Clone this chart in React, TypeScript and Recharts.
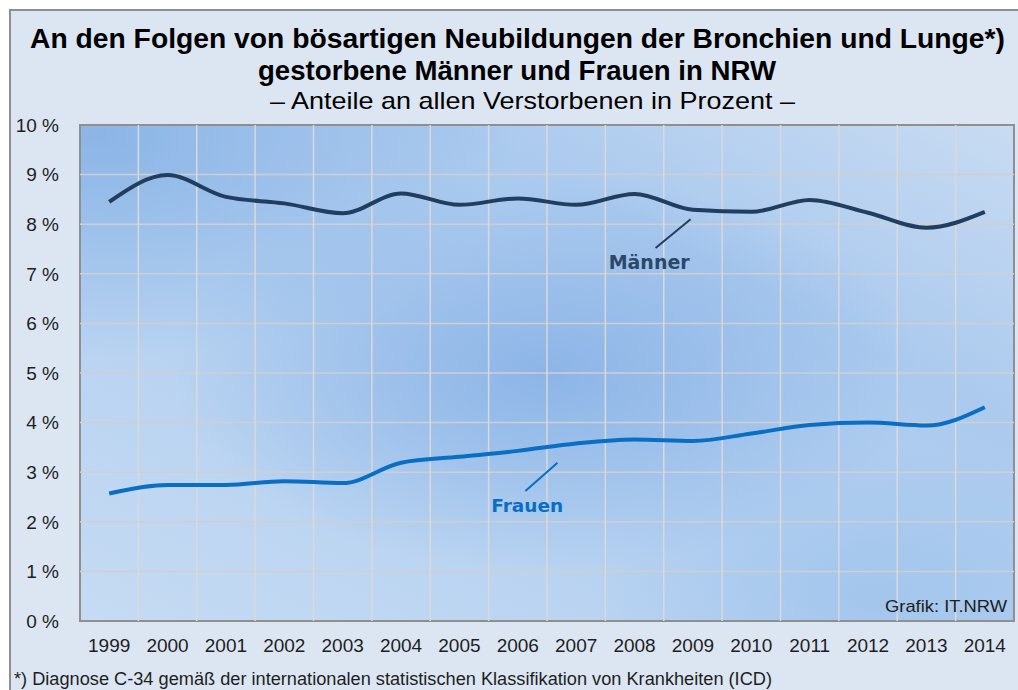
import React from 'react';
import { LineChart, Line, XAxis, YAxis, ReferenceArea, ReferenceLine, ReferenceDot } from 'recharts';

const years = [1999, 2000, 2001, 2002, 2003, 2004, 2005, 2006, 2007, 2008, 2009, 2010, 2011, 2012, 2013, 2014];
const maenner = [8.45, 8.99, 8.55, 8.42, 8.22, 8.62, 8.39, 8.52, 8.39, 8.61, 8.29, 8.25, 8.49, 8.23, 7.93, 8.25];
const frauen = [2.57, 2.74, 2.74, 2.82, 2.78, 3.19, 3.31, 3.43, 3.58, 3.66, 3.63, 3.78, 3.95, 4.0, 3.94, 4.31];
const yTicks = [0, 1, 2, 3, 4, 5, 6, 7, 8, 9, 10];
const hGrid = [1, 2, 3, 4, 5, 6, 7, 8, 9];
const gridBoundaries = [1999.5, 2000.5, 2001.5, 2002.5, 2003.5, 2004.5, 2005.5, 2006.5, 2007.5, 2008.5, 2009.5, 2010.5, 2011.5, 2012.5, 2013.5];

const titleLine1 = 'An den Folgen von bösartigen Neubildungen der Bronchien und Lunge*)';
const titleLine2 = 'gestorbene Männer und Frauen in NRW';
const titleLine3 = '– Anteile an allen Verstorbenen in Prozent –';
const footnote = '*) Diagnose C-34 gemäß der internationalen statistischen Klassifikation von Krankheiten (ICD)';
const source = 'Grafik: IT.NRW';

const data = years.map((y, i) => ({ year: y, m: maenner[i], f: frauen[i] }));

const W = 1018;
const H = 690;
const FONT = '"Liberation Sans", Arial, sans-serif';

export default function App() {
  return (
    <div style={{ position: 'absolute', left: 0, top: 0, width: W, height: H, background: '#ffffff', overflow: 'hidden' }}>
      <div
        style={{
          position: 'absolute',
          left: 9,
          top: 9,
          width: W + 10,
          height: H + 10,
          background: '#dce6f2',
          border: '2px solid #8f8f8f',
          boxSizing: 'border-box',
        }}
      />
      <svg width={W} height={H} style={{ position: 'absolute', left: 0, top: 0 }}>
        <defs>
          <linearGradient id="bgBase" x1="0" y1="1" x2="1" y2="0">
            <stop offset="0%" stopColor="#c6dbf3" />
            <stop offset="45%" stopColor="#b2cff0" />
            <stop offset="70%" stopColor="#abcaee" />
            <stop offset="100%" stopColor="#c8dbf2" />
          </linearGradient>
          <radialGradient id="blobTL" cx="0.02" cy="0.02" r="0.45">
            <stop offset="0%" stopColor="#8ab4e6" stopOpacity="0.95" />
            <stop offset="100%" stopColor="#8ab4e6" stopOpacity="0" />
          </radialGradient>
          <radialGradient id="blobC" cx="0.5" cy="0.5" r="0.4">
            <stop offset="0%" stopColor="#88b2e6" stopOpacity="0.9" />
            <stop offset="100%" stopColor="#88b2e6" stopOpacity="0" />
          </radialGradient>
          <radialGradient id="blobBR" cx="0.85" cy="0.95" r="0.3">
            <stop offset="0%" stopColor="#9dc2ec" stopOpacity="0.7" />
            <stop offset="100%" stopColor="#9dc2ec" stopOpacity="0" />
          </radialGradient>
        </defs>
      </svg>
      <div style={{ position: 'absolute', left: 0, top: 0 }}>
        <LineChart width={W} height={H} data={data} margin={{ top: 125, right: 4, bottom: 0, left: 0 }}>
          <XAxis
            dataKey="year"
            type="number"
            domain={[1998.5, 2014.5]}
            ticks={years}
            interval={0}
            axisLine={false}
            tickLine={false}
            tickSize={0}
            tickMargin={18}
            height={69}
            tick={{ fontFamily: FONT, fontSize: 19, fill: '#1e1e1e' }}
          />
          <YAxis
            type="number"
            domain={[0, 10]}
            ticks={yTicks}
            interval={0}
            axisLine={false}
            tickLine={false}
            tickSize={0}
            tickMargin={21}
            width={80}
            tickFormatter={(v) => `${v} %`}
            tick={{ fontFamily: FONT, fontSize: 19, fill: '#1e1e1e' }}
          />
          <ReferenceArea x1={1998.5} x2={2014.5} y1={0} y2={10} fill="url(#bgBase)" fillOpacity={1} stroke="none" ifOverflow="visible" />
          <ReferenceArea x1={1998.5} x2={2014.5} y1={0} y2={10} fill="url(#blobTL)" fillOpacity={1} stroke="none" ifOverflow="visible" />
          <ReferenceArea x1={1998.5} x2={2014.5} y1={0} y2={10} fill="url(#blobC)" fillOpacity={1} stroke="none" ifOverflow="visible" />
          <ReferenceArea x1={1998.5} x2={2014.5} y1={0} y2={10} fill="url(#blobBR)" fillOpacity={1} stroke="none" ifOverflow="visible" />
          {hGrid.map((v) => (
            <ReferenceLine key={'h' + v} y={v} stroke="#cfcfcf" strokeWidth={1.5} />
          ))}
          {gridBoundaries.map((b) => (
            <ReferenceLine key={'v' + b} x={b} stroke="#d9d9d9" strokeWidth={1.5} />
          ))}
          <ReferenceArea x1={1998.5} x2={2014.5} y1={0} y2={10} fill="none" stroke="#8f8f8f" strokeWidth={2} ifOverflow="visible" />
          <ReferenceLine
            segment={[{ x: 2008.36, y: 7.52 }, { x: 2008.96, y: 8.1 }]}
            stroke="#213e60"
            strokeWidth={2}
          />
          <ReferenceLine
            segment={[{ x: 2006.13, y: 2.62 }, { x: 2006.68, y: 3.19 }]}
            stroke="#0a6fc2"
            strokeWidth={2}
          />
          <ReferenceDot
            x={2008.25}
            y={7.23}
            r={0}
            stroke="none"
            label={{ value: 'Männer', position: 'center', fill: '#2c4868', fontSize: 19, fontWeight: 'bold', fontFamily: '"DejaVu Sans", Verdana, sans-serif' }}
          />
          <ReferenceDot
            x={2006.16}
            y={2.34}
            r={0}
            stroke="none"
            label={{ value: 'Frauen', position: 'center', fill: '#0a6fc2', fontSize: 18.5, fontWeight: 'bold', fontFamily: '"DejaVu Sans", Verdana, sans-serif' }}
          />
          <Line type="monotone" dataKey="m" stroke="#213e60" strokeWidth={4} dot={false} isAnimationActive={false} />
          <Line type="monotone" dataKey="f" stroke="#0a6fc2" strokeWidth={4} dot={false} isAnimationActive={false} />
        </LineChart>
      </div>
      <svg width={W} height={H} style={{ position: 'absolute', left: 0, top: 0, pointerEvents: 'none' }}>
        <text x={30} y={48} fontFamily={FONT} fontWeight="bold" fontSize={27} fill="#000" textLength={975} lengthAdjust="spacingAndGlyphs">
          {titleLine1}
        </text>
        <text x={258} y={80} fontFamily={FONT} fontWeight="bold" fontSize={27} fill="#000" textLength={518} lengthAdjust="spacingAndGlyphs">
          {titleLine2}
        </text>
        <text x={270} y={109} fontFamily={FONT} fontSize={24} fill="#000" textLength={525} lengthAdjust="spacingAndGlyphs">
          {titleLine3}
        </text>
        <text x={885} y={612} fontFamily={FONT} fontSize={17} fill="#1e1e1e" textLength={122} lengthAdjust="spacingAndGlyphs">
          {source}
        </text>
        <text x={14} y={685} fontFamily={FONT} fontSize={17.5} fill="#1e1e1e" textLength={758} lengthAdjust="spacingAndGlyphs">
          {footnote}
        </text>
      </svg>
    </div>
  );
}
